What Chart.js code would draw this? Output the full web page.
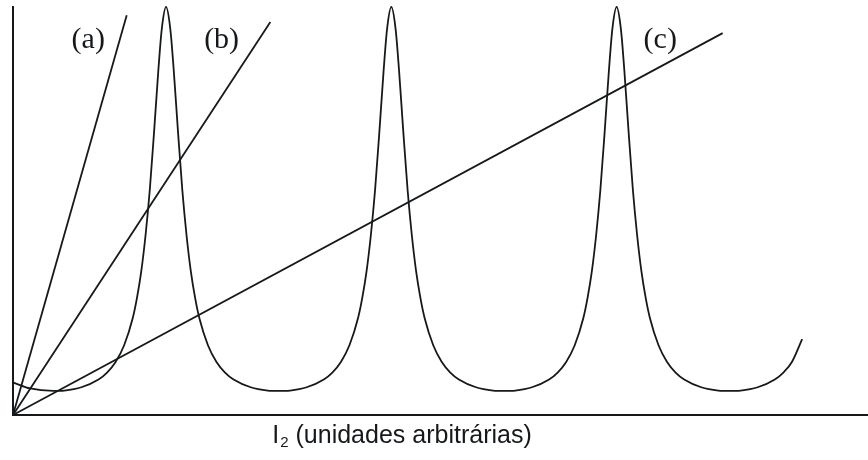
<!DOCTYPE html>
<html>
<head>
<meta charset="utf-8">
<script src="https://cdn.jsdelivr.net/npm/chart.js@4/dist/chart.umd.min.js"></script>
<style>
  body { margin: 0; background: #fff; }
  canvas { display: block; }
</style>
</head>
<body>
<canvas id="fabry" width="868" height="460"></canvas>
<script>
// transmitted intensity curve (arbitrary units)
const curveX = [
  0, 2, 4.7, 6, 8, 10, 11, 12, 13, 14, 14.5, 15, 15.5, 16, 16.5, 17, 17.4, 17.9,
  18.4, 18.8, 19.3, 19.8, 20.3, 20.8, 21.3, 21.8, 22.8, 23.8, 24.8, 25.8, 27.8, 29.8, 31.1,
  32.4, 34.35, 36.35, 37.35, 38.35, 39.35, 40.35, 40.85, 41.35, 41.85, 42.35, 42.85, 43.35, 43.75, 44.25,
  44.75, 45.15, 45.65, 46.15, 46.65, 47.15, 47.65, 48.15, 49.15, 50.15, 51.15, 52.15, 54.15, 56.15, 57.45,
  58.75, 60.7, 62.7, 63.7, 64.7, 65.7, 66.7, 67.2, 67.7, 68.2, 68.7, 69.2, 69.7, 70.1, 70.6,
  71.1, 71.5, 72.0, 72.5, 73.0, 73.5, 74.0, 74.5, 75.5, 76.5, 77.5, 78.5, 80.5, 82.5, 83.8,
  85.1, 87.1, 89.1, 90.1, 91.1, 92.3
];
const curveY = [
  0.080, 0.065, 0.059, 0.060, 0.068, 0.087, 0.104, 0.130, 0.171, 0.237, 0.287, 0.352, 0.440, 0.552, 0.694, 0.845, 0.946, 1.0,
  0.946, 0.845, 0.694, 0.552, 0.440, 0.352, 0.287, 0.237, 0.171, 0.130, 0.104, 0.087, 0.068, 0.060, 0.059,
  0.060, 0.068, 0.087, 0.104, 0.130, 0.171, 0.237, 0.287, 0.352, 0.440, 0.552, 0.694, 0.845, 0.946, 1.0,
  0.946, 0.845, 0.694, 0.552, 0.440, 0.352, 0.287, 0.237, 0.171, 0.130, 0.104, 0.087, 0.068, 0.060, 0.059,
  0.060, 0.068, 0.087, 0.104, 0.130, 0.171, 0.237, 0.287, 0.352, 0.440, 0.552, 0.694, 0.845, 0.946, 1.0,
  0.946, 0.845, 0.694, 0.552, 0.440, 0.352, 0.287, 0.237, 0.171, 0.130, 0.104, 0.087, 0.068, 0.060, 0.059,
  0.060, 0.068, 0.087, 0.104, 0.130, 0.186
];

// straight lines from the origin: end points
const lineNames = ['(a)', '(b)', '(c)'];
const lineEndX = [13.3, 30.1, 83.0];
const lineEndY = [0.980, 0.963, 0.936];

// where the line names sit
const nameX = [8.8, 24.4, 75.7];
const nameY = [0.92, 0.92, 0.92];

const axisTitle = ['I', '2', ' (unidades arbitrárias)'];
const axisTitleAt = 45.5;

const ink = '#16191b';

const datasets = [{
  data: curveX.map((x, i) => ({x, y: curveY[i]})),
  cubicInterpolationMode: 'monotone'
}];
lineNames.forEach((name, i) => {
  datasets.push({
    label: name,
    data: [{x: 0, y: 0}, {x: lineEndX[i], y: lineEndY[i]}]
  });
});
datasets.forEach(ds => {
  ds.showLine = true;
  ds.borderColor = ink;
  ds.borderWidth = 1.8;
  ds.pointRadius = 0;
  ds.clip = false;
});

const labelsPlugin = {
  id: 'labels',
  afterDraw(chart) {
    const {ctx, scales: {x, y}} = chart;
    ctx.save();
    ctx.fillStyle = ink;
    ctx.font = '30px "Liberation Serif", "Times New Roman", serif';
    ctx.textAlign = 'center';
    ctx.textBaseline = 'middle';
    lineNames.forEach((name, i) => {
      ctx.fillText(name, x.getPixelForValue(nameX[i]), y.getPixelForValue(nameY[i]));
    });

    // axis title with subscript
    const big = '25px "Liberation Sans", Arial, sans-serif';
    const small = '15px "Liberation Sans", Arial, sans-serif';
    ctx.textAlign = 'left';
    ctx.textBaseline = 'alphabetic';
    ctx.font = big;
    const w0 = ctx.measureText(axisTitle[0]).width;
    const w2 = ctx.measureText(axisTitle[2]).width;
    ctx.font = small;
    const w1 = ctx.measureText(axisTitle[1]).width + 1;
    const total = w0 + w1 + w2;
    let px = x.getPixelForValue(axisTitleAt) - total / 2;
    const base = 443;
    ctx.font = big;
    ctx.fillText(axisTitle[0], px, base);
    px += w0 + 1;
    ctx.font = small;
    ctx.fillText(axisTitle[1], px, base + 4);
    px += w1 - 1;
    ctx.font = big;
    ctx.fillText(axisTitle[2], px, base);
    ctx.restore();
  }
};

const axis = (min, max) => ({
  type: 'linear',
  min, max,
  ticks: {display: false},
  grid: {display: false, drawTicks: false},
  border: {display: true, color: ink, width: 2}
});

new Chart(document.getElementById('fabry'), {
  type: 'scatter',
  data: {datasets},
  options: {
    responsive: false,
    animation: false,
    devicePixelRatio: 1,
    layout: {padding: {left: 13, top: 7, right: 0, bottom: 45}},
    plugins: {legend: {display: false}, tooltip: {enabled: false}},
    scales: {x: axis(0, 100), y: axis(0, 1)}
  },
  plugins: [labelsPlugin]
});
</script>
</body>
</html>
